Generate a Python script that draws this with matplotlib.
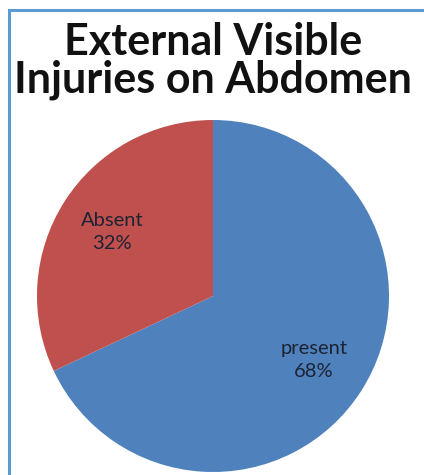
import matplotlib
matplotlib.use("Agg")
import matplotlib.pyplot as plt
from matplotlib.patches import Rectangle

categories = ["present", "Absent"]
values = [68, 32]
colors = ["#4F81BD", "#C0504D"]
title = "External Visible\nInjuries on Abdomen"

plt.rcParams['font.family'] = ['Lato', 'DejaVu Sans']

W, H = 424, 475
fig = plt.figure(figsize=(W / 100, H / 100), dpi=100)
fig.patch.set_facecolor("white")

# border (light blue frame)
fig.add_artist(Rectangle((9 / W, -0.1), 1.2, 1 - 10 / H + 0.1, transform=fig.transFigure,
                         fill=False, edgecolor="#5B9BD5", linewidth=2.2))

cx, cy, r = 213, 296, 176
ax = fig.add_axes([(cx - r) / W, (H - cy - r) / H, 2 * r / W, 2 * r / H])
labels = [f"{c}\n{v}%" for c, v in zip(categories, values)]
wedges, texts = ax.pie(values, colors=colors, startangle=90, counterclock=False,
                       labels=labels, labeldistance=0.68, radius=1,
                       textprops=dict(fontsize=14.5, color="#1c2333", ha="center", va="center",
                                      linespacing=1.45))
ax.set_xlim(-1, 1)
ax.set_ylim(-1, 1)
ax.set_aspect("equal")

fig.text(213 / W, 1 - 22 / H, title, ha="center", va="top", fontsize=31,
         fontweight="bold", color="#111111", linespacing=0.92)

fig.savefig("out.png", dpi=100)
